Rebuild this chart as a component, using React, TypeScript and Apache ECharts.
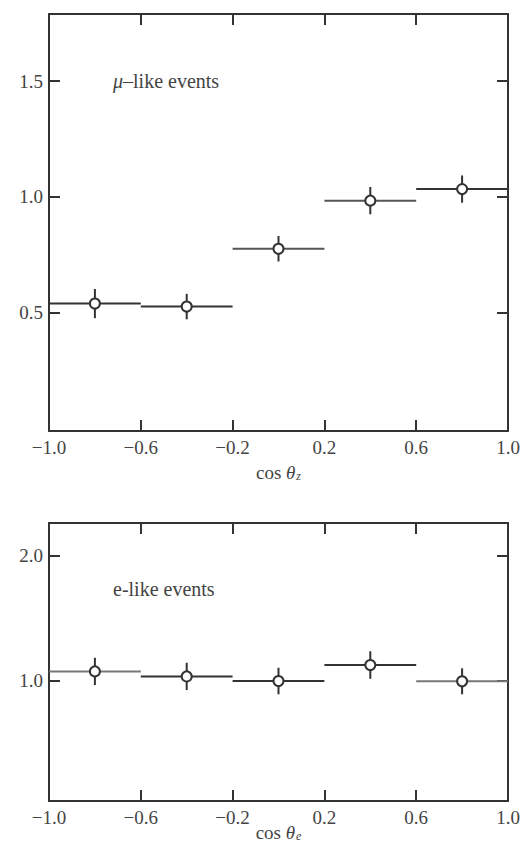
import React, { useEffect, useRef } from "react";
import * as echarts from "echarts";

const xTickLabels = [-1.0, -0.6, -0.2, 0.2, 0.6, 1.0];
const xMinorTicks = [-0.6, -0.2, 0.2, 0.6];
const binLow = [-1.0, -0.6, -0.2, 0.2, 0.6];
const binHigh = [-0.6, -0.2, 0.2, 0.6, 1.0];
const binCenter = [-0.8, -0.4, 0.0, 0.4, 0.8];
const muValue = [0.538, 0.525, 0.775, 0.983, 1.033];
const muError = [0.063, 0.055, 0.055, 0.059, 0.059];
const eValue = [1.074, 1.034, 0.997, 1.125, 0.995];
const eError = [0.109, 0.109, 0.106, 0.11, 0.104];
const muTicks = [0.5, 1.0, 1.5];
const eTicks = [1.0, 2.0];

const muShades = ["#333", "#333", "#555", "#555", "#333"];
const eShades = ["#777", "#333", "#333", "#333", "#777"];

const FONT = "Liberation Serif";
const INK = "#333";
const TEXT = "#444";
const LABEL_SIZE = 19;

function fmt(v: number) {
  return v.toFixed(1).replace("-", "\u2212");
}

function makeSeries(values: number[], errors: number[], shades: string[], idx: number) {
  const data = values.map((v, i) => [binCenter[i], v, errors[i], binLow[i], binHigh[i], i]);
  return {
    type: "custom",
    xAxisIndex: idx * 2,
    yAxisIndex: idx * 2,
    clip: false,
    encode: { x: 0, y: 1 },
    data,
    renderItem: (params: any, api: any) => {
      const c = api.value(0);
      const v = api.value(1);
      const e = api.value(2);
      const lo = api.value(3);
      const hi = api.value(4);
      const k = api.value(5);
      const pLo = api.coord([lo, v]);
      const pHi = api.coord([hi, v]);
      const pTop = api.coord([c, v + e]);
      const pBot = api.coord([c, v - e]);
      const pC = api.coord([c, v]);
      return {
        type: "group",
        children: [
          {
            type: "line",
            shape: { x1: pLo[0], y1: pLo[1], x2: pHi[0], y2: pHi[1] },
            style: { stroke: shades[k], lineWidth: 2 },
          },
          {
            type: "line",
            shape: { x1: pC[0], y1: pTop[1], x2: pC[0], y2: pBot[1] },
            style: { stroke: INK, lineWidth: 2 },
          },
          {
            type: "circle",
            shape: { cx: pC[0], cy: pC[1], r: 5 },
            style: { fill: "#fff", stroke: INK, lineWidth: 2 },
          },
        ],
      };
    },
  };
}

function xAxes(gridIndex: number, sub: string, nameGap: number) {
  const common = {
    type: "value",
    gridIndex,
    min: -1,
    max: 1,
    splitLine: { show: false },
    axisLine: { show: true, onZero: false, lineStyle: { color: INK, width: 2 } },
    axisTick: {
      show: true,
      inside: true,
      length: 11,
      customValues: xMinorTicks,
      lineStyle: { color: INK, width: 2 },
    },
  };
  return [
    {
      ...common,
      position: "bottom",
      axisLabel: {
        show: true,
        customValues: xTickLabels,
        formatter: (v: number) => fmt(v),
        fontFamily: FONT,
        fontSize: LABEL_SIZE,
        color: TEXT,
        margin: 7,
      },
      name: "{n|cos }{t|θ}{s|" + sub + "}",
      nameLocation: "middle",
      nameGap,
      nameMoveOverlap: false,
      nameTextStyle: {
        fontFamily: FONT,
        fontSize: LABEL_SIZE,
        color: TEXT,
        rich: {
          n: { fontFamily: FONT, fontSize: LABEL_SIZE, color: TEXT },
          t: { fontFamily: FONT, fontSize: LABEL_SIZE, fontStyle: "italic", color: TEXT },
          s: {
            fontFamily: FONT,
            fontSize: 12,
            fontStyle: "italic",
            color: TEXT,
            padding: [7, 0, 0, 1],
          },
        },
      },
    },
    {
      ...common,
      position: "top",
      axisLabel: { show: false },
    },
  ];
}

function yAxes(gridIndex: number, min: number, max: number, ticks: number[]) {
  const common = {
    type: "value",
    gridIndex,
    min,
    max,
    splitLine: { show: false },
    axisLine: { show: true, onZero: false, lineStyle: { color: INK, width: 2 } },
    axisTick: {
      show: true,
      inside: true,
      length: 11,
      customValues: ticks,
      lineStyle: { color: INK, width: 2 },
    },
  };
  return [
    {
      ...common,
      position: "left",
      axisLabel: {
        show: true,
        customValues: ticks,
        formatter: (v: number) => fmt(v),
        fontFamily: FONT,
        fontSize: LABEL_SIZE,
        color: TEXT,
        margin: 6,
      },
    },
    {
      ...common,
      position: "right",
      axisLabel: { show: false },
    },
  ];
}

export default function App() {
  const ref = useRef<HTMLDivElement>(null);
  useEffect(() => {
    if (!ref.current) return;
    const chart = echarts.init(ref.current, null, { renderer: "svg" });
    chart.setOption({
      animation: false,
      backgroundColor: "#fff",
      grid: [
        { left: 49, right: 16, top: 14, height: 417, outerBoundsMode: "none", containLabel: false },
        { left: 49, right: 16, top: 523, height: 278, outerBoundsMode: "none", containLabel: false },
      ],
      xAxis: [...xAxes(0, "z", 32), ...xAxes(1, "e", 22)],
      yAxis: [...yAxes(0, -0.013, 1.79, muTicks), ...yAxes(1, 0.04, 2.258, eTicks)],
      series: [
        makeSeries(muValue, muError, muShades, 0),
        makeSeries(eValue, eError, eShades, 1),
      ],
      graphic: [
        {
          type: "text",
          left: 113,
          top: 71,
          style: {
            text: "{m|μ}–like events",
            fontFamily: FONT,
            fontSize: 20,
            fill: TEXT,
            rich: {
              m: { fontFamily: FONT, fontSize: 20, fontStyle: "italic", fill: TEXT },
            },
          },
        },
        {
          type: "text",
          left: 113,
          top: 579,
          style: {
            text: "e-like events",
            fontFamily: FONT,
            fontSize: 20,
            fill: TEXT,
          },
        },
      ],
    });
    return () => chart.dispose();
  }, []);
  return (
    <div
      ref={ref}
      style={{ position: "fixed", left: 0, top: 0, width: 524, height: 847 }}
    />
  );
}
